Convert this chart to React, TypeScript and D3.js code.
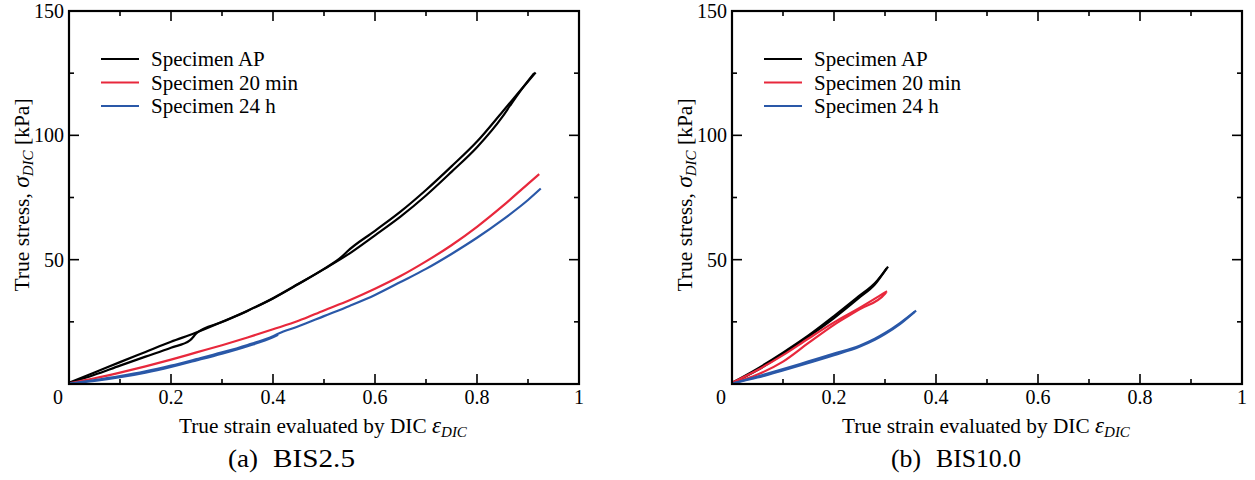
import React from 'react';
import * as d3 from 'd3';

//canvas
const width = 1255;
const height = 480;

//plot frame (same for both panels)
const plotTop = 11;
const plotBottom = 384;
const plotWidth = 510;
const leftPanelX = 69;
const rightPanelX = 732;

const fontFamily = 'Liberation Serif, DejaVu Serif, serif';

//axes
const strainDomain = [0, 1];
const stressDomain = [0, 150];
const strainLabels = ['0.2', '0.4', '0.6', '0.8', '1'];
const stressLabels = ['50', '100', '150'];

//legend
const seriesNames = ['Specimen AP', 'Specimen 20 min', 'Specimen 24 h'];
const seriesColors = ['#000000', '#e8283c', '#2a58a8'];

// BIS2.5 : [true strain, true stress kPa]
const bis25ApA = [
  [0, 0.5], [0.05, 4.6], [0.1, 8.8], [0.15, 12.9], [0.2, 17], [0.247, 20.5],
  [0.3, 25], [0.35, 29.5], [0.4, 34.5], [0.45, 40.3], [0.5, 46.3], [0.535, 51.2],
  [0.545, 53.2], [0.6, 61.6], [0.65, 69.3], [0.7, 78], [0.75, 87.5], [0.8, 97.5],
  [0.85, 109.5], [0.88, 116.8], [0.915, 125.3],
];
const bis25ApB = [
  [0, 0.3], [0.05, 3.7], [0.1, 7.4], [0.15, 11], [0.2, 14.6], [0.237, 17.5],
  [0.25, 20.4], [0.3, 24.9], [0.35, 29.4], [0.4, 34.4], [0.45, 40.2], [0.5, 46.2],
  [0.545, 51.8], [0.6, 59.8], [0.65, 67.3], [0.7, 75.8], [0.75, 85.3], [0.8, 95.2],
  [0.85, 107.5], [0.865, 112], [0.88, 116.4], [0.912, 125],
];
const bis25Min20 = [
  [0, 0.3], [0.05, 2.3], [0.1, 4.6], [0.15, 7.1], [0.2, 9.8], [0.25, 12.7],
  [0.3, 15.6], [0.35, 18.7], [0.4, 22], [0.45, 25.4], [0.5, 29.6], [0.55, 33.7],
  [0.6, 38.3], [0.65, 43.4], [0.7, 49.3], [0.75, 55.8], [0.8, 63.2], [0.85, 71.5],
  [0.9, 80.5], [0.922, 84.4],
];
const bis25H24A = [
  [0, 0.2], [0.05, 1.6], [0.1, 3.2], [0.15, 5.1], [0.2, 7.4], [0.25, 10],
  [0.3, 12.7], [0.35, 15.7], [0.4, 19.2], [0.41, 20.2], [0.45, 23.2], [0.5, 27.3],
  [0.55, 31.4], [0.6, 35.8], [0.65, 41], [0.7, 46.3], [0.75, 52.3], [0.8, 58.8],
  [0.85, 66], [0.9, 74], [0.925, 78.6],
];
const bis25H24B = [
  [0, 0.1], [0.05, 1.2], [0.1, 2.7], [0.15, 4.6], [0.2, 6.9], [0.25, 9.5],
  [0.3, 12.2], [0.35, 15.2], [0.4, 18.8], [0.41, 19.8],
];

// BIS10.0
const bis10ApA = [
  [0, 0.5], [0.05, 6.2], [0.1, 12.6], [0.15, 19.5], [0.2, 27.3], [0.25, 35.5],
  [0.28, 40.5], [0.306, 47.2],
];
const bis10ApB = [
  [0, 0.3], [0.05, 5.6], [0.1, 12], [0.15, 19], [0.2, 26.5], [0.25, 34.8],
  [0.28, 40], [0.303, 46.5],
];
const bis10Min20A = [
  [0, 0.5], [0.05, 5.6], [0.1, 11.6], [0.15, 18.3], [0.2, 24.8], [0.25, 30.6],
  [0.3, 36.8], [0.304, 37.3],
];
const bis10Min20B = [
  [0, 0.3], [0.05, 3.8], [0.1, 9], [0.15, 16.5], [0.2, 23.8], [0.25, 30],
  [0.3, 36.3], [0.302, 36.8],
];
const bis10H24A = [
  [0, 0.2], [0.05, 3], [0.1, 6], [0.15, 9.1], [0.2, 12.2], [0.25, 15.4],
  [0.28, 18.2], [0.3, 20.5], [0.33, 24.6], [0.361, 29.5],
];
const bis10H24B = [
  [0, 0.2], [0.05, 2.6], [0.1, 5.5], [0.15, 8.5], [0.2, 11.6], [0.25, 15],
  [0.28, 17.8], [0.3, 20.1], [0.33, 24.2], [0.358, 29],
];

const leftSeries = [
  { data: bis25ApA, color: 0 },
  { data: bis25ApB, color: 0 },
  { data: bis25Min20, color: 1 },
  { data: bis25H24A, color: 2 },
  { data: bis25H24B, color: 2 },
];
const rightSeries = [
  { data: bis10ApA, color: 0 },
  { data: bis10ApB, color: 0 },
  { data: bis10Min20A, color: 1 },
  { data: bis10Min20B, color: 1 },
  { data: bis10H24A, color: 2 },
  { data: bis10H24B, color: 2 },
];

const majorTick = 10;
const minorTick = 5;

const Panel = ({ x0, series, tag, name, nameWidth }) => {
  const x = d3.scaleLinear().domain(strainDomain).range([x0, x0 + plotWidth]);
  const y = d3.scaleLinear().domain(stressDomain).range([plotBottom, plotTop]);
  const line = d3
    .line<number[]>()
    .x((d) => x(d[0]))
    .y((d) => y(d[1]))
    .curve(d3.curveMonotoneX);

  const xTicks = x.ticks(10);
  const yTicks = d3.range(0, 151, 25);
  const isMajorX = (v) => Math.round(v * 10) % 2 === 0;
  const isMajorY = (v) => v % 50 === 0;

  return (
    <g style={{ fontFamily }}>
      {/* data */}
      {series.map((s, i) => (
        <path
          key={i}
          d={line(s.data)}
          fill="none"
          stroke={seriesColors[s.color]}
          strokeWidth={2.2}
          strokeLinejoin="round"
        />
      ))}

      {/* ticks on all four sides, pointing inward */}
      {xTicks.map((v) => {
        const len = isMajorX(v) ? majorTick : minorTick;
        return (
          <g key={'x' + v} stroke="#000" strokeWidth={1.6}>
            <line x1={x(v)} x2={x(v)} y1={plotBottom} y2={plotBottom - len} />
            <line x1={x(v)} x2={x(v)} y1={plotTop} y2={plotTop + len} />
          </g>
        );
      })}
      {yTicks.map((v) => {
        const len = isMajorY(v) ? majorTick : minorTick;
        return (
          <g key={'y' + v} stroke="#000" strokeWidth={1.6}>
            <line x1={x0} x2={x0 + len} y1={y(v)} y2={y(v)} />
            <line x1={x0 + plotWidth} x2={x0 + plotWidth - len} y1={y(v)} y2={y(v)} />
          </g>
        );
      })}
      <rect
        x={x0}
        y={plotTop}
        width={plotWidth}
        height={plotBottom - plotTop}
        fill="none"
        stroke="#000"
        strokeWidth={2.2}
      />

      {/* tick labels */}
      <g fontSize={20} fill="#000">
        <text x={x0 - 11} y={404} textAnchor="middle">0</text>
        {strainLabels.map((t) => (
          <text key={t} x={x(+t)} y={404} textAnchor="middle">{t}</text>
        ))}
        {stressLabels.map((t) => (
          <text key={t} x={x0 - 5} y={y(+t) + 7} textAnchor="end">{t}</text>
        ))}
      </g>

      {/* axis titles */}
      <text x={x0 + 110} y={433} fontSize={21.3}>
        True strain evaluated by DIC{' '}
        <tspan fontStyle="italic" fontSize={23}>ε</tspan>
        <tspan fontStyle="italic" fontSize={15} dy={4}>DIC</tspan>
      </text>
      <text
        transform={`translate(${x0 - 40},${195}) rotate(-90)`}
        textAnchor="middle"
        fontSize={21.5}
      >
        True stress, <tspan fontStyle="italic" fontSize={23.5}>σ</tspan>
        <tspan fontStyle="italic" fontSize={15} dy={4}>DIC</tspan>
        <tspan dy={-4}> [kPa]</tspan>
      </text>

      {/* legend */}
      {seriesNames.map((n, i) => (
        <g key={n}>
          <line
            x1={x0 + 32}
            x2={x0 + 70}
            y1={59 + i * 23.5}
            y2={59 + i * 23.5}
            stroke={seriesColors[i]}
            strokeWidth={2.2}
          />
          <text x={x0 + 82} y={59 + i * 23.5 + 7} fontSize={21}>
            {n}
          </text>
        </g>
      ))}

      {/* caption */}
      <text x={x0 + 159} y={467} fontSize={26} textLength={30} lengthAdjust="spacingAndGlyphs">
        {tag}
      </text>
      <text
        x={x0 + 204}
        y={467}
        fontSize={26}
        textLength={nameWidth}
        lengthAdjust="spacingAndGlyphs"
      >
        {name}
      </text>
    </g>
  );
};

const App = () => (
  <svg
    width={width}
    height={height}
    style={{ position: 'absolute', left: 0, top: 0, background: '#fff' }}
  >
    <Panel x0={leftPanelX} series={leftSeries} tag="(a)" name="BIS2.5" nameWidth={82} />
    <Panel x0={rightPanelX} series={rightSeries} tag="(b)" name="BIS10.0" nameWidth={85} />
  </svg>
);

export default App;
